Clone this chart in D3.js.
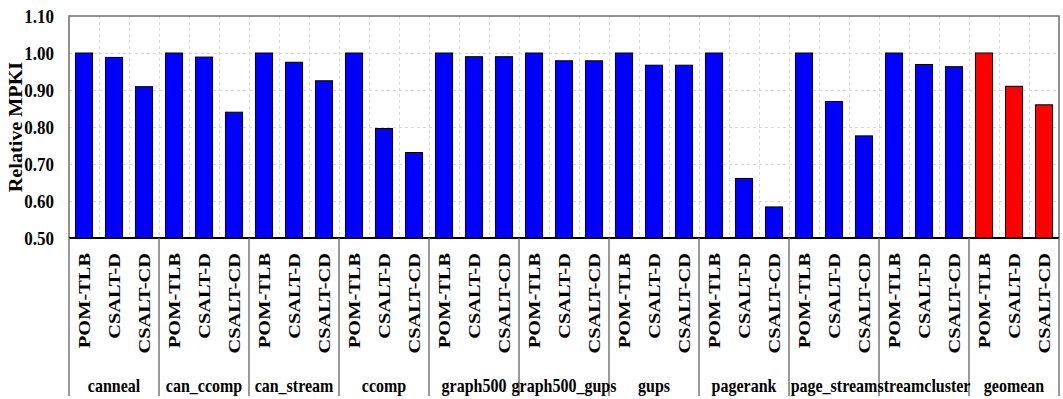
<!DOCTYPE html>
<html>
<head>
<meta charset="utf-8">
<script src="https://cdn.jsdelivr.net/npm/d3@7"></script>
<style>
  html, body { margin: 0; padding: 0; background: #fff; }
  svg { display: block; }
</style>
</head>
<body>
<svg id="chart" width="1063" height="399"></svg>
<script>
// Benchmarks (the last group is the geometric mean)
const benchmarks = ["canneal", "can_ccomp", "can_stream", "ccomp", "graph500", "graph500_gups",
                    "gups", "pagerank", "page_stream", "streamcluster", "geomean"];
const configs = ["POM-TLB", "CSALT-D", "CSALT-CD"];

// Relative MPKI per configuration, one entry per benchmark
const pomTlb  = [1.00, 1.00, 1.00, 1.00, 1.00, 1.00, 1.00, 1.00, 1.00, 1.00, 1.00];
const csaltD  = [0.988, 0.989, 0.975, 0.796, 0.990, 0.979, 0.967, 0.661, 0.869, 0.969, 0.910];
const csaltCD = [0.909, 0.840, 0.925, 0.731, 0.990, 0.979, 0.967, 0.584, 0.776, 0.963, 0.860];

const yTicks = [0.50, 0.60, 0.70, 0.80, 0.90, 1.00, 1.10];
const yTitle = "Relative MPKI";

const FONT = "'Liberation Serif', 'Times New Roman', serif";

const series = [pomTlb, csaltD, csaltCD];
const rows = benchmarks.flatMap((b, i) =>
  configs.map((c, j) => ({ bench: b, config: c, value: series[j][i], mean: b === "geomean" })));

const svg = d3.select("#chart");
const m = { left: 69, right: 1059, top: 16, bottom: 238 };

const x0 = d3.scaleBand().domain(benchmarks).range([m.left, m.right]).padding(0);
const x1 = d3.scaleBand().domain(configs).range([0, x0.bandwidth()])
  .paddingInner(0.43).paddingOuter(0.215);
const y = d3.scaleLinear().domain([0.5, 1.1]).range([m.bottom, m.top]);

// Gridlines: dashed, one per value tick and per category slot boundary
const grid = svg.append("g").attr("stroke", "#d9d9d9").attr("stroke-width", 1)
  .attr("stroke-dasharray", "3,3");
yTicks.slice(1, -1).forEach(t => {
  grid.append("line").attr("x1", m.left).attr("x2", m.right)
    .attr("y1", Math.round(y(t)) + 0.5).attr("y2", Math.round(y(t)) + 0.5);
});
benchmarks.forEach(b => {
  configs.forEach((c, j) => {
    if (b === benchmarks[0] && j === 0) return;
    const xx = x0(b) + j * x1.step();
    grid.append("line").attr("x1", xx + 0.5).attr("x2", xx + 0.5)
      .attr("y1", m.top).attr("y2", m.bottom);
  });
});

// Bars
svg.append("g").selectAll("rect").data(rows).join("rect")
  .attr("x", d => x0(d.bench) + x1(d.config))
  .attr("width", x1.bandwidth())
  .attr("y", d => y(d.value))
  .attr("height", d => y(0.5) - y(d.value))
  .attr("fill", d => d.mean ? "#ff0000" : "#0000ff")
  .attr("stroke", "#000").attr("stroke-width", 1);

// Plot frame
svg.append("path")
  .attr("d", `M${m.left},${m.bottom}V${m.top}H${m.right}V${m.bottom}`)
  .attr("fill", "none").attr("stroke", "#6e6e6e").attr("stroke-width", 1.5);

// Y axis labels
const yAxis = d3.axisLeft(y).tickValues(yTicks).tickFormat(d3.format(".2f")).tickSize(0).tickPadding(15);
const ya = svg.append("g").attr("transform", `translate(${m.left},0)`).call(yAxis)
  .attr("font-family", FONT).attr("font-size", 17).attr("font-weight", "bold");
ya.select(".domain").remove();
ya.selectAll(".tick text")
  .attr("fill", "#000")
  .attr("dy", "0.34em")
  .attr("transform", "scale(1,1.12)");

// Bottom axis line
svg.append("line").attr("x1", m.left).attr("x2", m.right)
  .attr("y1", m.bottom).attr("y2", m.bottom)
  .attr("stroke", "#000").attr("stroke-width", 2);

// Group separators below the axis
const sepX = benchmarks.map(b => x0(b)).concat([x0.range()[1]]);
svg.append("g").selectAll("line").data(sepX).join("line")
  .attr("x1", d => d).attr("x2", d => d)
  .attr("y1", m.bottom).attr("y2", 396)
  .attr("stroke", "#777").attr("stroke-width", 1.5);

// Configuration labels, rotated
svg.append("g")
  .attr("font-family", FONT).attr("font-weight", "bold").attr("font-size", 17)
  .selectAll("text").data(rows).join("text")
  .attr("transform", d => `translate(${x0(d.bench) + x1(d.config) + x1.bandwidth() / 2 + 5.5},253) rotate(-90) scale(1.2,1)`)
  .attr("text-anchor", "end")
  .text(d => d.config);

// Benchmark labels
svg.append("g")
  .attr("font-family", FONT).attr("font-weight", "bold").attr("font-size", 16)
  .selectAll("text").data(benchmarks).join("text")
  .attr("transform", d => `translate(${x0(d) + x0.bandwidth() / 2},391.5) scale(1,1.12)`)
  .attr("text-anchor", "middle")
  .text(d => d);

// Y axis title
svg.append("text")
  .attr("font-family", FONT).attr("font-weight", "bold").attr("font-size", 18)
  .attr("transform", `translate(22,${(m.top + m.bottom) / 2}) rotate(-90) scale(1.12,1)`)
  .attr("text-anchor", "middle")
  .text(yTitle);
</script>
</body>
</html>
